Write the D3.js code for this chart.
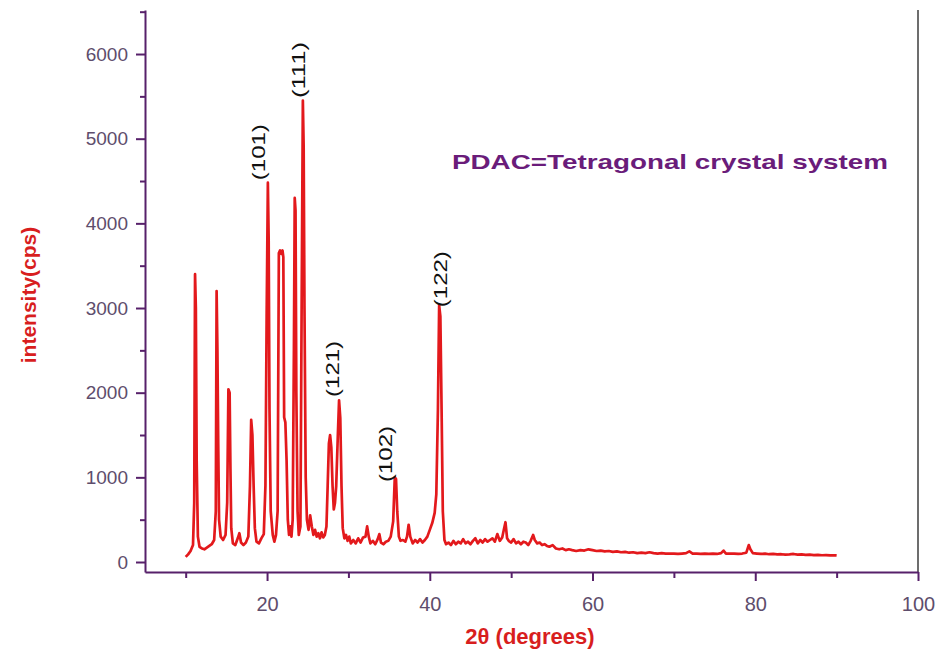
<!DOCTYPE html>
<html>
<head>
<meta charset="utf-8">
<script src="https://cdn.jsdelivr.net/npm/d3@7"></script>
<style>
  body { margin: 0; background: #fff; }
  svg { display: block; font-family: "Liberation Sans", Arial, sans-serif; }
</style>
</head>
<body>
<div id="chart"></div>
<script>
// diffraction pattern (2theta in degrees, intensity in cps)
const twoTheta = [
  10.0, 10.3, 10.6, 10.9, 11.05, 11.15, 11.25, 11.35, 11.5, 11.7, 12.0, 12.3, 12.6, 12.9, 13.2, 13.5, 13.7, 13.8, 13.9, 14.0,
  14.1, 14.3, 14.6, 14.9, 15.1, 15.25, 15.4, 15.5, 15.6, 15.8, 16.1, 16.4, 16.6, 16.8, 17.1, 17.4, 17.7, 17.9, 18.05, 18.2,
  18.35, 18.5, 18.7, 19.0, 19.3, 19.6, 19.8, 19.95, 20.1, 20.2, 20.3, 20.45, 20.7, 20.9, 21.1, 21.3, 21.45, 21.6, 21.75, 21.9,
  22.0, 22.1, 22.25, 22.4, 22.55, 22.7, 22.85, 23.0, 23.15, 23.3, 23.4, 23.5, 23.6, 23.75, 23.9, 24.1, 24.25, 24.4, 24.5, 24.6,
  24.75, 24.9, 25.1, 25.3, 25.5, 25.7, 25.9, 26.1, 26.3, 26.5, 26.7, 26.9, 27.1, 27.3, 27.45, 27.6, 27.75, 27.9, 28.05, 28.2,
  28.35, 28.5, 28.7, 28.85, 29.0, 29.15, 29.3, 29.5, 29.7, 29.9, 30.1, 30.3, 30.6, 30.9, 31.2, 31.5, 31.8, 32.1, 32.3, 32.5,
  32.7, 33.0, 33.3, 33.6, 33.8, 34.0, 34.3, 34.6, 34.9, 35.2, 35.5, 35.7, 35.85, 36.0, 36.2, 36.4, 36.7, 37.0, 37.2, 37.4,
  37.6, 37.9, 38.2, 38.5, 38.8, 39.1, 39.4, 39.7, 40.0, 40.3, 40.6, 40.8, 41.0, 41.15, 41.3, 41.45, 41.6, 41.8, 42.0, 42.3,
  42.6, 42.9, 43.2, 43.5, 43.8, 44.1, 44.4, 44.7, 45.0, 45.3, 45.6, 45.9, 46.2, 46.5, 46.8, 47.1, 47.4, 47.7, 48.0, 48.3,
  48.6, 48.9, 49.1, 49.3, 49.5, 49.7, 50.0, 50.3, 50.6, 50.9, 51.2, 51.5, 51.8, 52.1, 52.4, 52.7, 52.9, 53.2, 53.5, 53.8,
  54.1, 54.4, 54.7, 55.1, 55.5, 55.9, 56.3, 56.7, 57.1, 57.5, 58.0, 58.5, 59.0, 59.5, 60.0, 60.5, 61.0, 61.5, 62.0, 62.5,
  63.0, 63.5, 64.0, 64.5, 65.0, 65.5, 66.0, 66.5, 67.0, 67.5, 68.0, 68.5, 69.0, 69.5, 70.0, 70.5, 71.0, 71.5, 71.9, 72.3,
  72.8, 73.3, 73.8, 74.3, 74.8, 75.3, 75.8, 76.1, 76.4, 76.9, 77.4, 77.9, 78.4, 78.9, 79.2, 79.4, 79.7, 80.2, 80.7, 81.2,
  81.7, 82.2, 82.7, 83.2, 83.7, 84.2, 84.7, 85.2, 85.7, 86.2, 86.7, 87.2, 87.7, 88.2, 88.7, 89.2, 89.7, 90.0
];
const intensity = [
  60, 90, 130, 200, 700, 3400, 3000, 1200, 300, 180, 160, 150, 170, 190, 210, 260, 600, 3200, 2500, 1400,
  500, 300, 260, 320, 700, 2040, 2000, 1100, 400, 220, 200, 280, 340, 230, 200, 230, 300, 900, 1680, 1500,
  900, 400, 240, 220, 280, 330, 900, 2900, 4480, 3800, 1800, 600, 320, 240, 320, 600, 3650, 3680, 3640, 3680,
  3600, 1710, 1650, 1200, 500, 320, 420, 300, 500, 2500, 4300, 4150, 2000, 600, 320, 420, 3000, 5450, 4900, 3000,
  1000, 500, 380, 550, 420, 320, 380, 300, 340, 280, 350, 290, 320, 420, 900, 1400, 1500, 1350, 900, 620,
  700, 900, 1500, 1910, 1700, 900, 400, 280, 320, 250, 300, 220, 260, 220, 280, 230, 290, 300, 420, 300,
  220, 250, 210, 270, 330, 230, 210, 240, 250, 300, 480, 1000, 980, 600, 300, 250, 260, 240, 300, 440,
  300, 220, 260, 230, 270, 230, 260, 300, 380, 460, 580, 800, 1800, 3030, 2900, 1800, 600, 260, 210, 230,
  200, 250, 210, 240, 220, 270, 220, 240, 210, 250, 280, 220, 260, 230, 270, 240, 260, 280, 240, 330,
  250, 290, 380, 470, 280, 250, 230, 270, 220, 240, 210, 240, 230, 200, 250, 320, 260, 220, 230, 200,
  210, 190, 180, 200, 160, 150, 160, 140, 150, 140, 130, 140, 135, 150, 140, 130, 135, 125, 130, 120,
  125, 115, 120, 110, 115, 105, 110, 105, 115, 105, 100, 105, 100, 98, 100, 95, 100, 105, 125, 100,
  98, 95, 100, 97, 100, 95, 105, 135, 100, 98, 100, 95, 100, 110, 200, 150, 105, 100, 95, 98,
  92, 95, 90, 92, 88, 90, 95, 88, 90, 85, 88, 82, 85, 80, 82, 78, 80, 78
];

// Miller indices and where their labels sit (data units, label foot)
const peakLabels = ["(101)", "(111)", "(121)", "(102)", "(122)"];
const labelTheta = [18.93, 23.85, 28.03, 34.54, 41.3];
const labelFoot = [4510, 5480, 1950, 945, 3010];

const xTicks = [20, 40, 60, 80, 100];
const xMinorTicks = [10, 30, 50, 70, 90];
const yTicks = [0, 1000, 2000, 3000, 4000, 5000, 6000];
const yMinorTicks = [500, 1500, 2500, 3500, 4500, 5500, 6500];

const note = "PDAC=Tetragonal crystal system";

const width = 937, height = 654;
const margin = {top: 10, right: 19, bottom: 82, left: 145};
const plotW = width - margin.left - margin.right;
const plotH = height - margin.top - margin.bottom;

const axisColour = "#57206a";
const tickTextColour = "#5e4d6c";
const titleColour = "#d81e1e";

const svg = d3.select("#chart").append("svg")
  .attr("width", width)
  .attr("height", height);

const plot = svg.append("g")
  .attr("transform", `translate(${margin.left}, ${margin.top})`);

const x = d3.scaleLinear().domain([5, 100]).range([0, plotW]);
const y = d3.scaleLinear().domain([-118, 6520]).range([plotH, 0]);

// right frame edge
plot.append("line")
  .attr("x1", plotW).attr("x2", plotW)
  .attr("y1", 0).attr("y2", plotH)
  .attr("stroke", "#6d6d6d")
  .attr("stroke-width", 2);

const points = twoTheta.map((t, i) => ({t: t, v: intensity[i]}));

const line = d3.line()
  .x(d => x(d.t))
  .y(d => y(d.v));

plot.append("path")
  .datum(points)
  .attr("fill", "none")
  .attr("stroke", "#e3191c")
  .attr("stroke-width", 2.7)
  .attr("stroke-linejoin", "round")
  .attr("d", line);

// axes
function styleAxis(g) {
  g.select(".domain").attr("stroke", axisColour).attr("stroke-width", 2);
  g.selectAll(".tick line").attr("stroke", axisColour).attr("stroke-width", 2);
}

const xAxis = plot.append("g")
  .attr("transform", `translate(0, ${plotH})`)
  .call(d3.axisBottom(x).tickValues(xTicks).tickSize(9).tickPadding(16).tickSizeOuter(0));
xAxis.call(styleAxis);
xAxis.selectAll("text")
  .attr("fill", tickTextColour)
  .style("font-size", "20px");

plot.append("g")
  .attr("transform", `translate(0, ${plotH})`)
  .call(d3.axisBottom(x).tickValues(xMinorTicks).tickSize(6).tickFormat(""))
  .call(g => g.select(".domain").remove())
  .selectAll(".tick line").attr("stroke", axisColour).attr("stroke-width", 2);

const yAxis = plot.append("g")
  .call(d3.axisLeft(y).tickValues(yTicks).tickSize(9).tickPadding(8).tickSizeOuter(0).tickFormat(d3.format("d")));
yAxis.call(styleAxis);
yAxis.selectAll("text")
  .attr("fill", tickTextColour)
  .style("font-size", "19px");

plot.append("g")
  .call(d3.axisLeft(y).tickValues(yMinorTicks).tickSize(5).tickFormat(""))
  .call(g => g.select(".domain").remove())
  .selectAll(".tick line").attr("stroke", axisColour).attr("stroke-width", 2);

// peak labels
plot.selectAll(".peak-label")
  .data(peakLabels)
  .join("text")
  .attr("class", "peak-label")
  .attr("transform", (d, i) => `translate(${x(labelTheta[i])}, ${y(labelFoot[i])}) rotate(-90)`)
  .attr("dy", "0.36em")
  .attr("text-anchor", "start")
  .attr("textLength", 56)
  .attr("lengthAdjust", "spacingAndGlyphs")
  .attr("fill", "#111")
  .style("font-size", "19px")
  .text(d => d);

// note
svg.append("text")
  .attr("x", 452)
  .attr("y", 169)
  .attr("textLength", 436)
  .attr("lengthAdjust", "spacingAndGlyphs")
  .attr("fill", "#6a1c7a")
  .style("font-size", "21px")
  .style("font-weight", "bold")
  .text(note);

// axis titles
svg.append("text")
  .attr("transform", "translate(36, 295) rotate(-90)")
  .attr("text-anchor", "middle")
  .attr("fill", titleColour)
  .style("font-size", "21px")
  .style("font-weight", "bold")
  .text("intensity(cps)");

svg.append("text")
  .attr("x", 530)
  .attr("y", 644)
  .attr("text-anchor", "middle")
  .attr("fill", titleColour)
  .style("font-size", "22px")
  .style("font-weight", "bold")
  .text("2θ (degrees)");
</script>
</body>
</html>
